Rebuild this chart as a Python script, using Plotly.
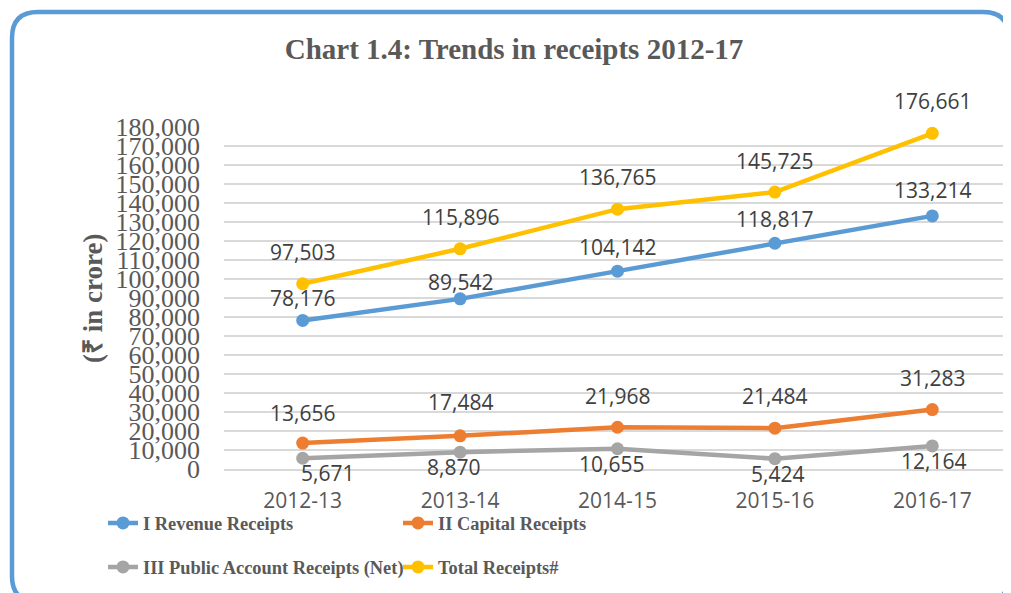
import plotly.graph_objects as go

# ---- data ----
years = ["2012-13", "2013-14", "2014-15", "2015-16", "2016-17"]
revenue = [78176, 89542, 104142, 118817, 133214]
capital = [13656, 17484, 21968, 21484, 31283]
public_acc = [5671, 8870, 10655, 5424, 12164]
total = [97503, 115896, 136765, 145725, 176661]
names = ["I Revenue Receipts", "II Capital Receipts",
         "III Public Account Receipts (Net)", "Total Receipts#"]
y_ticks = list(range(0, 180001, 10000))

# ---- styling ----
colors = ["#5B9BD5", "#ED7D31", "#A5A5A5", "#FFC000"]
series = [revenue, capital, public_acc, total]
legends = ["legend", "legend", "legend2", "legend2"]
label_dy = [[-22, -17, -24, -24, -26],
            [-30, -34, -31, -32, -32],
            [15, 15, 15, 15, 15],
            [-32, -32, -32, -31, -32]]
label_dx = [[0, 0, 0, 0, 0],
            [0, 0, 0, 0, 0],
            [25, -7, -6, 3, 1],
            [0, 0, 0, 0, 0]]

OFF = 8  # page body margin of the browser
W, H = 1011 - OFF, 593 - OFF
L, R_px, T, B_px = 224 - OFF, 1011 - OFF, 127 - OFF, 469 - OFF
PW, PH = R_px - L, B_px - T


def px(xp):
    return (xp - OFF - L) / PW


def py(yp):
    return (B_px - (yp - OFF)) / PH


fig = go.Figure()
for s, name, c, lg in zip(series, names, colors, legends):
    fig.add_trace(go.Scatter(
        x=years, y=s, name=name, mode="lines+markers",
        line=dict(color=c, width=4.5),
        marker=dict(color=c, size=13),
        legend=lg, cliponaxis=False,
    ))

annotations = []
for s, dys, dxs in zip(series, label_dy, label_dx):
    for xv, yv, dy, dx in zip(years, s, dys, dxs):
        annotations.append(dict(
            x=xv, y=yv, xref="x", yref="y", text=f"{yv:,}",
            showarrow=False, yshift=-dy, xshift=dx,
            font=dict(family="Open Sans", size=21, color="#404040"),
        ))

annotations.append(dict(
    x=px(93), y=py(299), xref="paper", yref="paper",
    xanchor="center", yanchor="middle",
    text="(₹ in crore)", textangle=-90, showarrow=False,
    font=dict(family="Liberation Serif", size=27, color="#595959", weight="bold"),
))

# rounded border
bl, bt, br, bb, rr = 12, 12, 1009, 602, 26
path = (f"M {px(bl)},{py(bt + rr)} "
        f"Q {px(bl)},{py(bt)} {px(bl + rr)},{py(bt)} "
        f"L {px(br - rr)},{py(bt)} "
        f"Q {px(br)},{py(bt)} {px(br)},{py(bt + rr)} "
        f"L {px(br)},{py(bb - rr)} "
        f"Q {px(br)},{py(bb)} {px(br - rr)},{py(bb)} "
        f"L {px(bl + rr)},{py(bb)} "
        f"Q {px(bl)},{py(bb)} {px(bl)},{py(bb - rr)} Z")

legend_font = dict(family="Liberation Serif", size=18.4, color="#595959", weight="bold")

fig.update_layout(
    width=W, height=H,
    margin=dict(l=L, r=W - R_px, t=T, b=H - B_px, pad=0),
    paper_bgcolor="white", plot_bgcolor="white",
    title=dict(text="Chart 1.4: Trends in receipts 2012-17",
               x=(514 - OFF) / W, y=1 - (49 - OFF) / H, xref="container", yref="container",
               xanchor="center", yanchor="middle",
               font=dict(family="Liberation Serif", size=29, color="#595959", weight="bold")),
    xaxis=dict(type="category", range=[-0.5, 4.5], showgrid=False,
               showline=True, linecolor="#D9D9D9", linewidth=1.5,
               ticks="", ticklabelstandoff=12,
               tickfont=dict(family="Open Sans", size=21, color="#595959")),
    yaxis=dict(range=[0, 180000], tickvals=y_ticks,
               ticktext=[f"{v:,}" for v in y_ticks],
               showgrid=True, gridcolor="#D9D9D9", gridwidth=1.5,
               zeroline=False, showline=False, ticks="", ticklabelstandoff=23,
               tickfont=dict(family="Liberation Serif", size=26, color="#595959")),
    legend=dict(orientation="h", x=px(103), y=py(523), xanchor="left", yanchor="middle",
                xref="paper", yref="paper", entrywidth=250, entrywidthmode="pixels",
                font=legend_font, bgcolor="rgba(0,0,0,0)", itemwidth=30),
    legend2=dict(orientation="h", x=px(103), y=py(567), xanchor="left", yanchor="middle",
                 xref="paper", yref="paper", entrywidth=250, entrywidthmode="pixels",
                 font=legend_font, bgcolor="rgba(0,0,0,0)", itemwidth=30),
    annotations=annotations,
    shapes=[dict(type="path", path=path, xref="paper", yref="paper",
                 line=dict(color="#5B9BD5", width=4.5), fillcolor="rgba(0,0,0,0)",
                 layer="above")],
    showlegend=True,
)

fig.write_html("out.html")
